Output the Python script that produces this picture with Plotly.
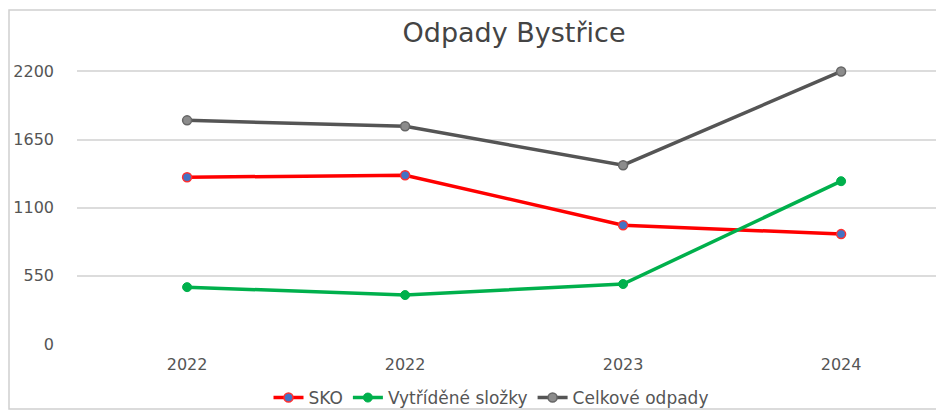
import plotly.graph_objects as go

categories = ["2022", "2022", "2023", "2024"]
sko = [1346, 1362, 959, 887]
vytridene = [459, 395, 484, 1314]
celkove = [1805, 1757, 1443, 2200]
ytick_vals = [0, 550, 1100, 1650, 2200]

xpos = list(range(len(categories)))
FONT = "DejaVu Sans, Inter, sans-serif"

# page body has an 8px margin, so the figure is 936x402 to fit the 944x410 window
W, H = 936, 402
L, T, B = 69, 56, 66
PW, PH = W - L, H - T - B

fig = go.Figure()
fig.add_trace(go.Scatter(
    x=xpos, y=sko, name="SKO", mode="lines+markers",
    line=dict(color="#ff0000", width=3.5),
    marker=dict(size=9, color="#4472c4", line=dict(color="#ff3030", width=1.5)),
))
fig.add_trace(go.Scatter(
    x=xpos, y=vytridene, name="Vytříděné složky", mode="lines+markers",
    line=dict(color="#00b04c", width=3.5),
    marker=dict(size=9, color="#00b04c", line=dict(color="#00b04c", width=1)),
))
fig.add_trace(go.Scatter(
    x=xpos, y=celkove, name="Celkové odpady", mode="lines+markers",
    line=dict(color="#555555", width=3.5),
    marker=dict(size=9, color="#8c8c8c", line=dict(color="#666666", width=1.5)),
))

fig.update_layout(
    width=W, height=H,
    margin=dict(l=L, r=0, t=T, b=B),
    paper_bgcolor="white", plot_bgcolor="white",
    font=dict(family=FONT, color="#555555", size=16),
    title=dict(text="Odpady Bystřice", x=(514 - 8) / W, xanchor="center",
               y=1 - 25 / H, yanchor="middle", yref="container", xref="container",
               font=dict(size=27, color="#444444", family=FONT)),
    showlegend=True,
    legend=dict(orientation="h", x=(491 - 8) / W, xanchor="center", xref="container",
                y=1 - 390 / H, yanchor="middle", yref="container",
                font=dict(size=17, color="#555555", family=FONT), bgcolor="rgba(0,0,0,0)",
                itemwidth=30),
    xaxis=dict(range=[-0.505, 3.472], tickvals=xpos, ticktext=categories,
               showgrid=False, zeroline=False, showline=False, ticks="",
               automargin=False, ticklabelstandoff=9,
               tickfont=dict(size=16, color="#555555", family=FONT)),
    yaxis=dict(range=[0, 2260], tickvals=ytick_vals, showgrid=True,
               gridcolor="#dcdcdc", gridwidth=1.5, zeroline=False, showline=False,
               ticks="", ticklabelstandoff=22, automargin=False,
               tickfont=dict(size=16, color="#555555", family=FONT)),
    shapes=[dict(type="rect", xref="paper", yref="paper",
                 x0=(1 - L) / PW, x1=1.05, y0=(T + PH - 401) / PH, y1=(T + PH - 2) / PH,
                 line=dict(color="#d0d0d0", width=1.5), layer="below")],
)

fig.write_html("out.html")
